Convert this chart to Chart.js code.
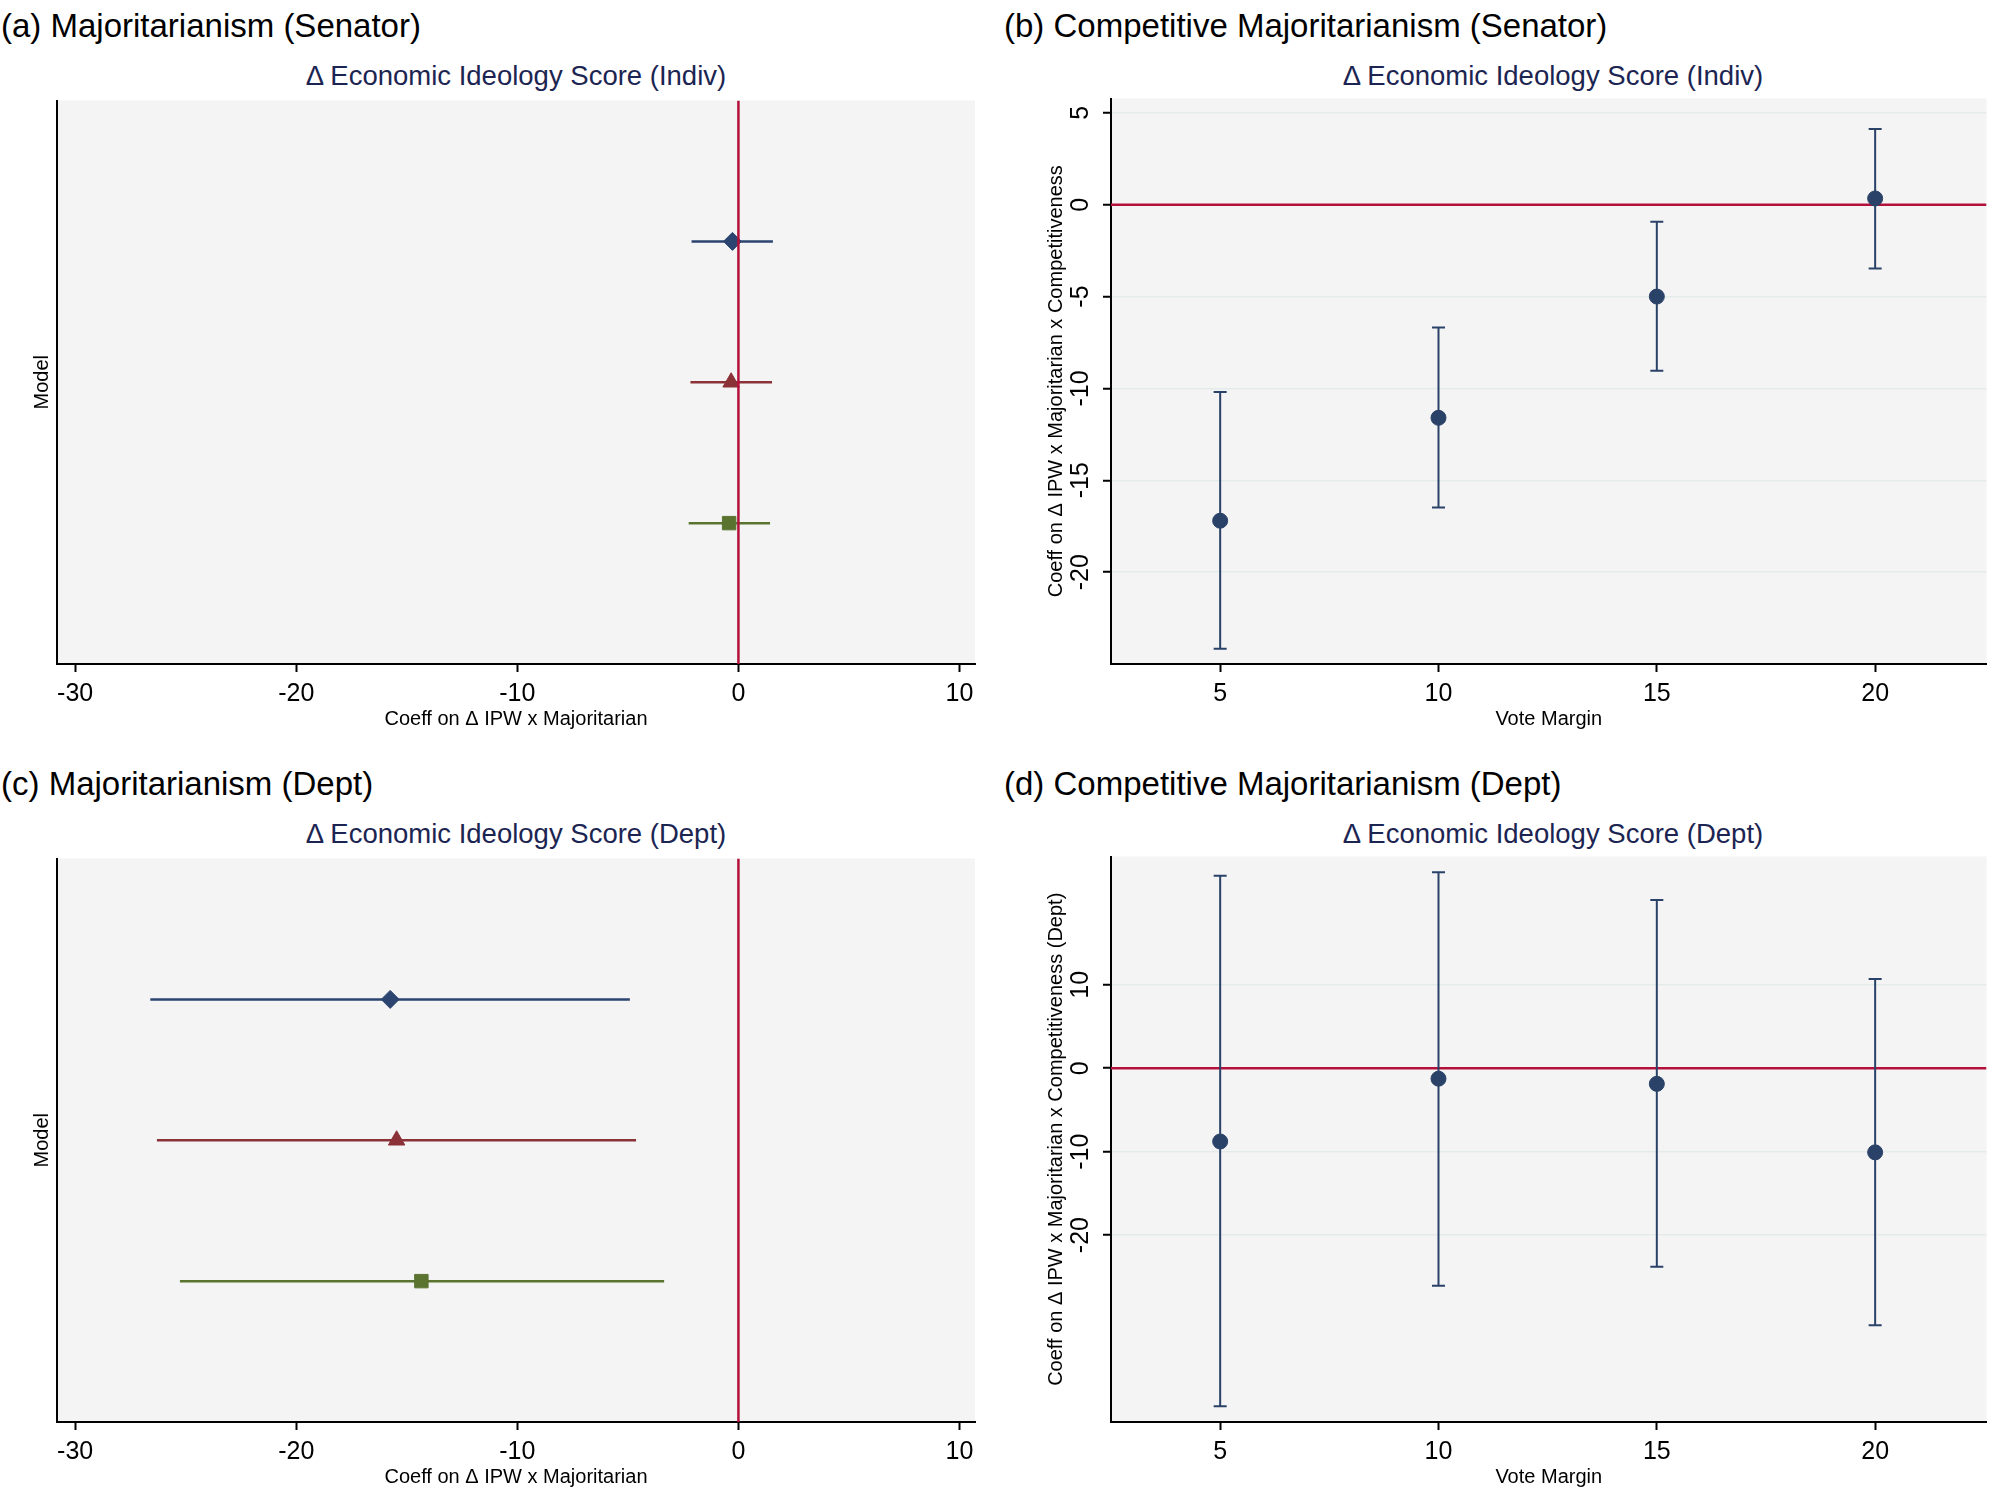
<!DOCTYPE html>
<html lang="en">
<head>
<meta charset="UTF-8">
<title>Majoritarianism coefficient plots</title>
<script src="https://cdn.jsdelivr.net/npm/chart.js"></script>
<style>
    body {
        margin: 0;
        width: 1995px;
        height: 1492px;
        position: relative;
        background: #fff;
        font-family: "Liberation Sans", Arial, Helvetica, sans-serif;
        overflow: hidden;
    }
    .ptitle {
        position: absolute;
        font-size: 33px;
        line-height: 33px;
        color: #000;
        white-space: nowrap;
    }
    .psub {
        position: absolute;
        font-size: 27.5px;
        line-height: 28px;
        color: #1c2552;
        text-align: center;
        white-space: nowrap;
    }
    canvas {
        position: absolute;
    }
</style>
</head>
<body>
<div class="ptitle" style="left:1px; top:9px;">(a) Majoritarianism (Senator)</div>
<div class="psub" style="left:57px; width:918px; top:62px;">Δ Economic Ideology Score (Indiv)</div>
<canvas id="chartA" width="990" height="641" style="left:0; top:90px;"></canvas>

<div class="ptitle" style="left:1004px; top:9px;">(b) Competitive Majoritarianism (Senator)</div>
<div class="psub" style="left:1111px; width:884px; top:62px;">Δ Economic Ideology Score (Indiv)</div>
<canvas id="chartB" width="995" height="641" style="left:1000px; top:90px;"></canvas>

<div class="ptitle" style="left:1px; top:767px;">(c) Majoritarianism (Dept)</div>
<div class="psub" style="left:57px; width:918px; top:820px;">Δ Economic Ideology Score (Dept)</div>
<canvas id="chartC" width="990" height="641" style="left:0; top:848px;"></canvas>

<div class="ptitle" style="left:1004px; top:767px;">(d) Competitive Majoritarianism (Dept)</div>
<div class="psub" style="left:1111px; width:884px; top:820px;">Δ Economic Ideology Score (Dept)</div>
<canvas id="chartD" width="995" height="641" style="left:1000px; top:848px;"></canvas>

<script>
    // panels (a) and (c): one row per model
    const modelPos = [1, 2, 3];
    const senCoef = [-0.27, -0.33, -0.42];
    const senLo = [-2.12, -2.17, -2.25];
    const senHi = [1.56, 1.52, 1.43];
    const deptCoef = [-15.75, -15.46, -14.34];
    const deptLo = [-26.6, -26.3, -25.26];
    const deptHi = [-4.91, -4.63, -3.36];
    const coefTicks = [-30, -20, -10, 0, 10];

    // panels (b) and (d): coefficient by vote margin
    const voteMargin = [5, 10, 15, 20];
    const compSenCoef = [-17.2, -11.6, -5.0, 0.34];
    const compSenLo = [-24.17, -16.48, -9.04, -3.47];
    const compSenHi = [-10.2, -6.68, -0.93, 4.12];
    const compDeptCoef = [-8.78, -1.25, -1.87, -10.08];
    const compDeptLo = [-40.5, -26.06, -23.8, -30.8];
    const compDeptHi = [23.06, 23.5, 20.17, 10.7];
    const senYTicks = [-20, -15, -10, -5, 0, 5];
    const deptYTicks = [-20, -10, 0, 10];

    const RED = '#b3103b';
    const NAVY = '#2a4268';
    const modelColors = ['#2c4570', '#8a3237', '#5a7430'];
    const modelMarkers = ['rectRot', 'triangle', 'rect'];
    const modelRadius = [9, 9.5, 9.5];

    Chart.defaults.font.family = '"Liberation Sans", Arial, Helvetica, sans-serif';
    Chart.defaults.color = '#000';

    const plotBg = {
        id: 'plotBg',
        beforeDraw(chart) {
            const { ctx, chartArea: a } = chart;
            ctx.save();
            ctx.fillStyle = '#f4f4f4';
            ctx.fillRect(a.left, a.top, a.right - a.left, a.bottom - a.top);
            ctx.restore();
        }
    };

    function xAxis(min, max, tickVals, title) {
        return {
            type: 'linear',
            min: min,
            max: max,
            afterBuildTicks: s => { s.ticks = tickVals.map(v => ({ value: v })); },
            afterFit: s => { s.height = 67; s.paddingLeft = 0; s.paddingRight = 0; },
            ticks: { font: { size: 25 }, color: '#000', padding: 7, maxRotation: 0, autoSkip: false },
            grid: { drawOnChartArea: false, tickLength: 8, tickColor: '#000', tickWidth: 2 },
            border: { color: '#000', width: 2 },
            title: { display: true, text: title, font: { size: 20 }, color: '#000', padding: { top: 0, bottom: 0 } }
        };
    }

    function makeForest(id, coef, lo, hi) {
        const datasets = [{
            data: [{ x: 0, y: 0 }, { x: 0, y: 4 }],
            showLine: true, borderColor: RED, borderWidth: 2.5, pointRadius: 0, order: 0
        }];
        modelPos.forEach((p, i) => {
            datasets.push({
                data: [{ x: lo[i], y: p }, { x: hi[i], y: p }],
                showLine: true, borderColor: modelColors[i], borderWidth: 2.5, pointRadius: 0, order: 2
            });
            datasets.push({
                data: [{ x: coef[i], y: p }],
                pointStyle: modelMarkers[i], pointRadius: modelRadius[i],
                backgroundColor: modelColors[i], borderColor: modelColors[i], borderWidth: 1, order: 1
            });
        });
        new Chart(document.getElementById(id), {
            type: 'scatter',
            data: { datasets: datasets },
            options: {
                responsive: false,
                animation: false,
                devicePixelRatio: 1,
                layout: { padding: { top: 8, right: 15, bottom: 0, left: 0 } },
                plugins: { legend: { display: false }, tooltip: { enabled: false } },
                scales: {
                    x: xAxis(-30.82, 10.7, coefTicks, 'Coeff on Δ IPW x Majoritarian'),
                    y: {
                        type: 'linear', min: 0, max: 4, reverse: true,
                        afterFit: s => { s.width = 57; s.paddingTop = 0; s.paddingBottom = 0; },
                        ticks: { display: false },
                        grid: { display: false },
                        border: { color: '#000', width: 2 },
                        title: { display: true, text: 'Model', font: { size: 20 }, color: '#000', padding: { top: 30, bottom: 0 } }
                    }
                }
            },
            plugins: [plotBg]
        });
    }

    function makeMargin(id, coef, lo, hi, yMin, yMax, yTicks, yTitle) {
        const xMin = 2.5, xMax = 22.55;
        const datasets = [{
            data: [{ x: xMin, y: 0 }, { x: xMax, y: 0 }],
            showLine: true, borderColor: RED, borderWidth: 2.5, pointRadius: 0, order: 3
        }];
        voteMargin.forEach((v, i) => {
            datasets.push({
                data: [{ x: v, y: lo[i] }, { x: v, y: hi[i] }],
                showLine: true, borderColor: NAVY, borderWidth: 2, pointRadius: 0, order: 2
            });
        });
        datasets.push({
            data: voteMargin.map((v, i) => ({ x: v, y: lo[i] })).concat(voteMargin.map((v, i) => ({ x: v, y: hi[i] }))),
            pointStyle: 'line', pointRadius: 6.5, borderColor: NAVY, borderWidth: 2, order: 2
        });
        datasets.push({
            data: voteMargin.map((v, i) => ({ x: v, y: coef[i] })),
            pointStyle: 'circle', pointRadius: 7.5, backgroundColor: NAVY, borderColor: NAVY, borderWidth: 1, order: 1
        });
        new Chart(document.getElementById(id), {
            type: 'scatter',
            data: { datasets: datasets },
            options: {
                responsive: false,
                animation: false,
                devicePixelRatio: 1,
                layout: { padding: { top: 8, right: 0, bottom: 0, left: 0 } },
                plugins: { legend: { display: false }, tooltip: { enabled: false } },
                scales: {
                    x: xAxis(xMin, xMax, voteMargin, 'Vote Margin'),
                    y: {
                        type: 'linear', min: yMin, max: yMax,
                        afterBuildTicks: s => { s.ticks = yTicks.map(v => ({ value: v })); },
                        afterFit: s => { s.width = 111; s.paddingTop = 0; s.paddingBottom = 0; },
                        ticks: { font: { size: 25 }, color: '#000', padding: 4, minRotation: 90, maxRotation: 90, crossAlign: 'center', autoSkip: false },
                        grid: { color: '#e4ebeb', lineWidth: 1.5, tickLength: 8, tickColor: '#000', tickWidth: 2 },
                        border: { color: '#000', width: 2 },
                        title: { display: true, text: yTitle, font: { size: 20 }, color: '#000', padding: { top: 44, bottom: 0 } }
                    }
                }
            },
            plugins: [plotBg]
        });
    }

    makeForest('chartA', senCoef, senLo, senHi);
    makeForest('chartC', deptCoef, deptLo, deptHi);
    makeMargin('chartB', compSenCoef, compSenLo, compSenHi, -25.0, 5.78, senYTicks,
        'Coeff on Δ IPW x Majoritarian x Competitiveness');
    makeMargin('chartD', compDeptCoef, compDeptLo, compDeptHi, -42.4, 25.38, deptYTicks,
        'Coeff on Δ IPW x Majoritarian x Competitiveness (Dept)');
</script>
</body>
</html>
